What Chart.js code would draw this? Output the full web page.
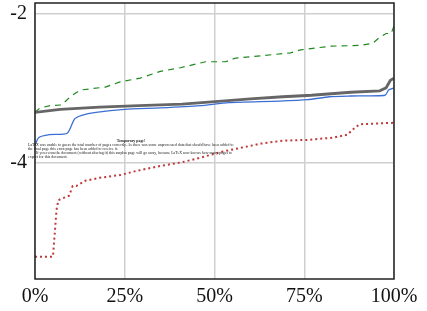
<!DOCTYPE html>
<html>
<head>
<meta charset="utf-8">
<script src="https://cdn.jsdelivr.net/npm/chart.js@4/dist/chart.umd.min.js"></script>
<style>
  body { margin:0; background:#fff; }
  #wrap { position:relative; width:427px; height:311px; }
  #tmp { position:absolute; left:28px; top:139px; width:206px; font-family:"Liberation Serif",serif; font-size:3.9px; line-height:4.1px; color:#222; }
  #tmp .t { text-align:center; font-weight:bold; }
  #tmp .i { text-indent:8px; }
</style>
</head>
<body>
<div id="wrap">
<canvas id="chart" width="427" height="311"></canvas>
<div id="tmp">
  <div class="t">Temporary page!</div>
  <div>LaTeX was unable to guess the total number of pages correctly. As there was some unprocessed data that should have been added to the final page this extra page has been added to receive it.</div>
  <div class="i">If you rerun the document (without altering it) this surplus page will go away, because LaTeX now knows how many pages to expect for this document.</div>
</div>
</div>
<script>
/*** DATA ***/
const greenX = [0, 1.4, 4.2, 7.5, 9.8, 12.6, 19.6, 23.7, 29.3, 34.9, 40.5, 47.5, 53.1, 55.9, 62.8, 71.2, 74.0, 82.4, 90.8, 94.1, 95.8, 97.8, 99.2, 100];
const greenY = [-3.32, -3.26, -3.23, -3.22, -3.11, -3.02, -2.98, -2.91, -2.86, -2.77, -2.72, -2.64, -2.64, -2.59, -2.56, -2.52, -2.48, -2.43, -2.42, -2.39, -2.32, -2.26, -2.26, -2.16];

const grayX = [0, 7, 18, 29, 41, 52, 60, 69, 77, 88, 96, 97.8, 99, 100];
const grayY = [-3.32, -3.28, -3.25, -3.23, -3.21, -3.17, -3.14, -3.11, -3.09, -3.05, -3.03, -2.99, -2.89, -2.86];

const blueX = [0, 1, 4, 9, 11, 13, 17, 25, 35, 46, 54, 68, 76, 82, 88, 97.5, 98.5, 100];
const blueY = [-3.76, -3.66, -3.62, -3.60, -3.41, -3.36, -3.32, -3.28, -3.26, -3.23, -3.19, -3.17, -3.15, -3.11, -3.10, -3.09, -3.02, -2.99];

const redX = [0, 5, 6, 6.5, 9.5, 10.5, 11.5, 14, 18, 24, 28, 35, 41, 46, 52, 57, 63, 69, 76, 83, 87, 89, 90.5, 100];
const redY = [-5.26, -5.26, -4.63, -4.50, -4.44, -4.31, -4.31, -4.24, -4.20, -4.16, -4.11, -4.04, -3.99, -3.93, -3.85, -3.80, -3.74, -3.70, -3.69, -3.66, -3.62, -3.53, -3.48, -3.46];

const xTicks = [0, 25, 50, 75, 100];
const yTicks = [-4, -2];

function pts(xs, ys){
    return xs.map(function(x, i){ return {x:x, y:ys[i]}; });
}

/*** frame round the plot ***/
const frame = {
    id:'frame',
    afterDraw:function(chart){
        let a = chart.chartArea, ctx = chart.ctx;
        ctx.save();
        ctx.strokeStyle = '#222';
        ctx.lineWidth = 1.5;
        ctx.strokeRect(a.left, a.top, a.right - a.left, a.bottom - a.top);
        ctx.restore();
    }
};

let ctx = document.getElementById('chart').getContext('2d');

new Chart(ctx,{
    type:'line',
    data:{
        datasets:[
            {data:pts(redX, redY), borderColor:'#c0393b', borderWidth:2, borderDash:[2,3], pointRadius:0, tension:0},
            {data:pts(blueX, blueY), borderColor:'#3b6fd4', borderWidth:1.3, pointRadius:0, tension:0.2},
            {data:pts(grayX, grayY), borderColor:'#666', borderWidth:2.8, pointRadius:0, tension:0},
            {data:pts(greenX, greenY), borderColor:'#1e8a1e', borderWidth:1.2, borderDash:[6,5], pointRadius:0, tension:0}
        ]
    },
    options:{
        responsive:false,
        animation:false,
        layout:{ padding:{ top:3, right:33, left:0, bottom:0 } },
        plugins:{ legend:{display:false}, tooltip:{enabled:false} },
        scales:{
            x:{
                type:'linear', min:0, max:100,
                afterBuildTicks:function(s){ s.ticks = xTicks.map(function(v){ return {value:v}; }); },
                afterFit:function(s){ s.height = 32; s.paddingLeft = 0; s.paddingRight = 0; },
                grid:{ color:'#cfcfcf', lineWidth:1.5, drawTicks:false },
                border:{ display:false },
                ticks:{ padding:6, color:'#111', font:{family:'Liberation Serif', size:20}, callback:function(v){ return v + '%'; } }
            },
            y:{
                type:'linear', min:-5.56, max:-1.85,
                afterBuildTicks:function(s){ s.ticks = yTicks.map(function(v){ return {value:v}; }); },
                afterFit:function(s){ s.width = 35; s.paddingTop = 0; s.paddingBottom = 0; },
                grid:{ color:'#cfcfcf', lineWidth:1.5, drawTicks:false },
                border:{ display:false },
                ticks:{ padding:8, color:'#111', font:{family:'Liberation Serif', size:20} }
            }
        }
    },
    plugins:[frame]
});
</script>
</body>
</html>
